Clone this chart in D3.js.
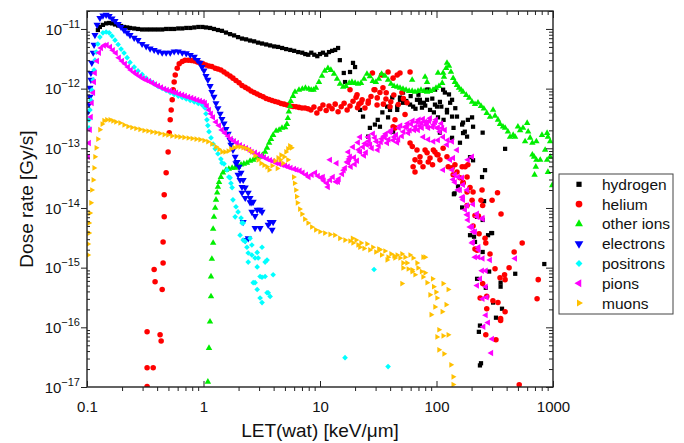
<!DOCTYPE html>
<html>
<head>
<meta charset="utf-8">
<script src="https://cdn.jsdelivr.net/npm/d3@7"></script>
<style>
  body { margin: 0; background: #fff; }
  svg { font-family: "Liberation Sans", Arial, sans-serif; }
</style>
</head>
<body>
<svg id="chart" width="684" height="443"></svg>
<script>
// tick labels
const xTicks = [0.1, 1, 10, 100, 1000];
const xTickLabels = ['0.1', '1', '10', '100', '1000'];
const yTickPowers = [-17, -16, -15, -14, -13, -12, -11];
const seriesNames = ['hydrogen', 'helium', 'other ions', 'electrons', 'positrons', 'pions', 'muons'];

// [LET keV/um, dose rate Gy/s]
const hydrogen = [
  [0.124,9.6e-12],[0.129,1.08e-11],[0.137,1.17e-11],[0.146,1.24e-11],[0.155,1.26e-11],[0.164,1.24e-11],[0.174,1.19e-11],[0.185,1.14e-11],
  [0.196,1.12e-11],[0.208,1.08e-11],[0.221,1.06e-11],[0.234,1.04e-11],[0.254,1.02e-11],[0.274,1.0e-11],[0.297,9.8e-12],[0.322,9.8e-12],
  [0.348,9.8e-12],[0.377,9.8e-12],[0.408,9.8e-12],[0.442,9.8e-12],[0.478,1.0e-11],[0.518,1.0e-11],[0.56,1.0e-11],[0.607,1.02e-11],
  [0.657,1.02e-11],[0.711,1.04e-11],[0.77,1.04e-11],[0.833,1.06e-11],[0.902,1.08e-11],[0.977,1.08e-11],[1.05,1.06e-11],[1.14,1.04e-11],
  [1.23,1.0e-11],[1.33,9.6e-12],[1.44,9.3e-12],[1.56,8.7e-12],[1.69,8.2e-12],[1.83,7.8e-12],[1.98,7.3e-12],[2.14,6.9e-12],[2.32,6.7e-12],
  [2.51,6.4e-12],[2.72,6.2e-12],[2.94,5.9e-12],[3.18,5.7e-12],[3.45,5.5e-12],[3.73,5.3e-12],[4.04,5.1e-12],[4.37,5.0e-12],[4.73,4.8e-12],
  [5.12,4.6e-12],[5.55,4.45e-12],[6.0,4.3e-12],[6.5,4.1e-12],[7.04,4.0e-12],[7.47,3.8e-12],[7.93,3.7e-12],[8.42,4.0e-12],[8.93,3.7e-12],
  [9.48,3.5e-12],[10.0,3.8e-12],[10.6,4.0e-12],[11.3,3.7e-12],[11.95,4.1e-12],[12.7,4.3e-12],[13.5,4.45e-12],[14.3,4.8e-12],
  [14.8,3.0e-12],[16.0,1.83e-12],[18.1,1.9e-12],[19.2,2.7e-12],[20.0,2.3e-12],[16.4,1.29e-12],[22.1,4.4e-13],[23.4,3.4e-13],[26.8,2.2e-13],
  [25.9,1.57e-13],[31.3,3.0e-13],[34.3,4.0e-13],[39.9,4.4e-13],[48.6,7.1e-13],[51.6,5.8e-13],[63,5.0e-13],[72.2,5.8e-13],[88,4.4e-13],
  [101,5.0e-13],[83.2,9.6e-13],[97.2,9.6e-13],[41.7,7.1e-13],[37.7,5.0e-13],[32.7,2.3e-13],[38.4,3.3e-13],[46.0,5.0e-13],[51.6,8.6e-13],
  [68.0,6.5e-13],[114,9.6e-13],[123,4.4e-13],[131,5.8e-13],[150,3.4e-13],[169,2.7e-13],[186,3.0e-13],[169,1.8e-13],[183,1.57e-13],
  [159,1.24e-13],[194,7.1e-14],[78,5.8e-13],[97,5.4e-13],[107,6.0e-13],[118,8.6e-13],[136,6.5e-13],[123,4.0e-13],[136,3.4e-13],
  [166,2.5e-13],[202,3.3e-13],[206,2.3e-13],[249,1.83e-13],[388,9.8e-14],[107,1.83e-13],[136,1.5e-13],[206,6.3e-14],[261,4.3e-14],
  [246,3.3e-14],[143,1.76e-14],[223,7.1e-15],[166,1.02e-14],[249,6.3e-15],[300,3.8e-15],[277,3.5e-15],[194,3.5e-15],[214,2.7e-15],
  [249,1.83e-15],[153,2.3e-14],[141,1.7e-14],[256,1.3e-14],[210,3.3e-15],[295,3.8e-15],[223,6.5e-16],[283,8.6e-16],[355,5.6e-16],
  [355,4.8e-16],[474,7.9e-16],[265,4.6e-16],[306,2.6e-16],[365,2.05e-16],[324,1.45e-16],[236,1.07e-16],[231,8.4e-17],[241,2.5e-17],
  [236,2.3e-17],[842,1.15e-15],[29.6,2.5e-13],[46,4.4e-13],[48.6,6.5e-13],[59.3,5.4e-13],[72,6.5e-13],[83,6.5e-13],[103,3.3e-13],
  [85,9.6e-13],[70,7.9e-13],[42.4,1.9e-13],
  [55,6.2e-13],[60,7.5e-13],[66,4.6e-13],[75,4.8e-13],[80,5.2e-13],[92,6.8e-13],[110,5.0e-13],[128,8.0e-13],[145,4.7e-13],[95,4.0e-13],
  [115,3.0e-13],[175,1.9e-13],[140,2.2e-13]
];

const helium = [
  [0.328,1.02e-17],[0.328,2.1e-17],[0.37,2.1e-17],[0.328,8.4e-17],[0.424,7.5e-17],[0.433,5.9e-17],[0.377,9.3e-16],[0.384,5.8e-16],
  [0.442,4.3e-16],[0.45,1.2e-15],[0.45,2.7e-15],[0.46,7.1e-15],[0.46,1.66e-14],[0.478,3.9e-14],[0.497,8.7e-14],[0.508,1.83e-13],
  [0.518,3.0e-13],[0.528,4.4e-13],[0.539,6.5e-13],[0.549,9.6e-13],[0.56,1.29e-12],[0.572,1.69e-12],[0.595,2.2e-12],[0.619,2.6e-12],
  [0.657,2.85e-12],[0.694,3.0e-12],[0.74,3.0e-12],[0.787,2.96e-12],[0.833,2.9e-12],[0.885,2.8e-12],[0.934,2.7e-12],[0.99,2.6e-12],
  [1.05,2.5e-12],[1.115,2.4e-12],[1.18,2.35e-12],[1.26,2.2e-12],[1.33,2.13e-12],[1.41,2.05e-12],[1.5,1.9e-12],[1.59,1.76e-12],
  [1.69,1.63e-12],[1.79,1.5e-12],[1.9,1.37e-12],[2.02,1.25e-12],[2.14,1.13e-12],[2.28,1.05e-12],[2.42,9.9e-13],[2.56,9.15e-13],
  [2.72,8.6e-13],[2.89,8.15e-13],[3.06,7.7e-13],[3.25,7.3e-13],[3.45,6.85e-13],[3.66,6.6e-13],[3.88,6.35e-13],[4.12,6.1e-13],
  [4.37,5.9e-13],[4.63,5.65e-13],[4.91,5.5e-13],[5.21,5.3e-13],[5.53,5.1e-13],[5.87,5.0e-13],[6.22,4.95e-13],[6.6,4.85e-13],
  [7.0,4.75e-13],[7.43,4.75e-13],[7.88,4.6e-13],[8.36,4.4e-13],[8.87,4.9e-13],[9.4,3.9e-13],[10,4.6e-13],[10.6,5.3e-13],[11.3,4.3e-13],
  [11.95,5.1e-13],[12.7,4.6e-13],[13.5,5.5e-13],[14.3,4.1e-13],[15.2,4.95e-13],[16.1,5.7e-13],[17.1,4.4e-13],[18.1,5.1e-13],
  [19.2,6.15e-13],[20.4,7.2e-13],[21.6,5.5e-13],[23.0,6.5e-13],[24.3,4.75e-13],[25.9,5.7e-13],[27.4,7.4e-13],[29.1,9.6e-13],
  [30.9,5.3e-13],[32.7,8.6e-13],[34.7,1.03e-12],[36.8,6.7e-13],[38.4,1.9e-12],[39.9,4.95e-13],[42.4,1.5e-12],[44,3.0e-13],[44,2.2e-13],
  [46,1.69e-12],[48.6,1.83e-12],[50.5,8.6e-13],[53.7,3.7e-13],[55.8,5.8e-13],[59.3,1.9e-12],[28.2,1.83e-12],[33.8,1.69e-12],
  [29.6,9.6e-13],[20.8,7.9e-13],[18.1,9.6e-13],[42.4,2.3e-13],[59.3,1.23e-13],
  [21,4.8e-13],[22.5,5.8e-13],[26,6.2e-13],[31,7.0e-13],[35,5.5e-13],[37,8.5e-13],[40.5,6.0e-13],[43,7.8e-13],[47,5.4e-13],[52,6.8e-13],
  [62,1.07e-13],[68,9.4e-14],[65.4,6.4e-14],[72.2,7.2e-14],[76.6,4.9e-14],[65.4,4.0e-14],[83,8.4e-14],[88,6.9e-14],[94,9.4e-14],
  [101,7.8e-14],[92.5,5.3e-14],[72,5.9e-14],[63,4.9e-14],[79.8,9.4e-14],[97,8.7e-14],[103,7.8e-14],[107,6.4e-14],[114,1.0e-13],
  [123,7.2e-14],[85,5.9e-14],[126,4.9e-14],[136,4.7e-14],[144,5.3e-14],[150,4.0e-14],[166,4.9e-14],[176,4.9e-14],[139,3.6e-14],
  [159,3.2e-14],[183,3.3e-14],[186,5.3e-14],[169,2.6e-14],[194,2.2e-14],[206,1.85e-14],[246,2.0e-14],[334,1.8e-14],[183,1.1e-14],
  [202,1.35e-14],[249,1.1e-14],[300,1.35e-14],[358,7.9e-15],[229,7.3e-15],[214,7.5e-15],[206,5.0e-15],[232,3.7e-15],[261,3.1e-15],
  [265,2.6e-15],[544,2.6e-15],[214,2.05e-15],[223,1.95e-15],[288,1.7e-15],[464,1.83e-15],[318,9.6e-16],[420,1.0e-15],[384,7.6e-16],
  [351,6.8e-16],[388,6.3e-16],[747,6.3e-16],[249,5.4e-16],[237,3.1e-16],[270,3.3e-16],[305,2.8e-16],[337,2.6e-16],[730,3.0e-16],
  [270,2.05e-16],[388,1.83e-16],[355,1.4e-16],[355,1.3e-16],[265,7.5e-17],[324,6.2e-17],[513,1.09e-17],[169,2.7e-14],[183,1.85e-14],
  [241,1.35e-14]
];

const otherIons = [
  [1.09,1.22e-17],[1.115,4.5e-17],[1.137,1.24e-16],[1.16,3.3e-16],[1.16,7.1e-16],[1.18,1.4e-15],[1.21,2.6e-15],[1.21,4.45e-15],
  [1.23,7.1e-15],[1.26,1.0e-14],[1.28,1.37e-14],[1.31,1.8e-14],[1.33,2.25e-14],[1.36,2.7e-14],[1.41,3.3e-14],[1.47,3.9e-14],
  [1.56,4.35e-14],[1.65,4.5e-14],[1.76,4.7e-14],[1.86,4.7e-14],[1.98,4.9e-14],[2.1,5.3e-14],[2.22,5.5e-14],[2.36,5.7e-14],
  [2.51,6.15e-14],[2.67,6.4e-14],[2.83,6.9e-14],[3.0,7.2e-14],[3.2,7.7e-14],[3.38,8.7e-14],[3.51,1.02e-13],[3.66,1.23e-13],
  [3.8,1.43e-13],[3.96,1.67e-13],[4.2,1.95e-13],[4.46,2.03e-13],[4.72,2.2e-13],[5.02,2.25e-13],[5.2,2.55e-13],[5.3,3.2e-13],
  [5.4,4.1e-13],[5.53,5.1e-13],[5.6,6.2e-13],[5.87,7.5e-13],[6.1,8.8e-13],[6.6,9.5e-13],[7.05,9.9e-13],[7.5,1.03e-12],[8.0,9.9e-13],
  [8.4,9.5e-13],[8.8,9.5e-13],[9.24,1.03e-12],[9.8,1.29e-12],[10.4,1.63e-12],[11.0,1.98e-12],[11.7,2.2e-12],[12.4,2.05e-12],
  [13.2,1.76e-12],[14.0,1.45e-12],[14.85,1.2e-12],[15.8,1.07e-12],[16.7,1.1e-12],[17.8,1.24e-12],[18.8,1.29e-12],[20.0,1.24e-12],
  [21.2,1.2e-12],[22.5,1.24e-12],[23.9,1.45e-12],[25.3,1.76e-12],[26.8,1.6e-12],[28.4,1.34e-12],[30.2,1.29e-12],[32.0,1.45e-12],
  [33.8,1.76e-12],[36.1,1.63e-12],[38.4,1.4e-12],[40.7,1.2e-12],[43.2,1.1e-12],[46,1.07e-12],[48.6,1.03e-12],[51.6,9.9e-13],
  [54.8,9.5e-13],[58.2,9.1e-13],[61.8,9.1e-13],[65.4,8.8e-13],[69.4,9.1e-13],[73.6,9.5e-13],[78.2,9.1e-13],[83,8.8e-13],[88,9.1e-13],
  [93.3,9.5e-13],[99,1.03e-12],[105,1.1e-12],[112,1.24e-12],[116,1.57e-12],[121,2.2e-12],[123,2.7e-12],[128,2.4e-12],[133,1.9e-12],
  [139,1.5e-12],[144,1.29e-12],[150,1.15e-12],[156,1.03e-12],[163,9.5e-13],[169,8.8e-13],[180,7.8e-13],[191,7.0e-13],[202,6.0e-13],
  [214,5.5e-13],[227,5.8e-13],[241,5.1e-13],[255,4.6e-13],[270,3.9e-13],[288,3.35e-13],[306,4.4e-13],[318,3.5e-13],[337,3.0e-13],
  [351,2.55e-13],[372,2.3e-13],[388,2.2e-13],[410,1.9e-13],[428,1.55e-13],[455,1.67e-13],[473,1.55e-13],[500,2.3e-13],[522,2.0e-13],
  [553,2.2e-13],[576,1.3e-13],[600,2.65e-13],[612,1.9e-13],[636,1.5e-13],[665,1.23e-13],[665,7.8e-14],[695,3.6e-14],[720,1.3e-13],
  [720,6.4e-14],[777,6.4e-14],[804,1.67e-13],[856,9.4e-14],[890,1.8e-13],[905,1.55e-13],[905,4.0e-14],[945,7.2e-14],[945,1.3e-13],
  [985,2.4e-14],[688,7.2e-14],[712,4.9e-14],[890,6.4e-14],
  [79.8,1.57e-12],[83,1.29e-12],[103,1.83e-12],[114,1.83e-12],[61.8,1.4e-12]
];

const electrons = [
  [0.102,4.1e-13],[0.104,5.5e-13],[0.106,7.3e-13],[0.106,1.03e-12],[0.108,1.4e-12],[0.108,1.83e-12],[0.11,2.7e-12],[0.113,4.0e-12],
  [0.115,5.4e-12],[0.117,7.9e-12],[0.122,1.17e-11],[0.129,1.53e-11],[0.137,1.68e-11],[0.146,1.72e-11],[0.155,1.65e-11],[0.164,1.5e-11],
  [0.174,1.36e-11],[0.185,1.21e-11],[0.196,1.08e-11],[0.208,9.6e-12],[0.221,8.7e-12],[0.234,7.9e-12],[0.254,7.1e-12],[0.274,6.5e-12],
  [0.297,5.6e-12],[0.322,5.1e-12],[0.348,4.7e-12],[0.377,4.45e-12],[0.408,4.2e-12],[0.442,4.0e-12],[0.478,4.0e-12],[0.518,4.0e-12],
  [0.56,4.2e-12],[0.607,4.2e-12],[0.657,4.0e-12],[0.711,3.9e-12],[0.77,3.67e-12],[0.833,3.4e-12],[0.885,3.0e-12],[0.934,2.7e-12],
  [0.97,2.3e-12],[1.01,2.0e-12],[1.05,1.63e-12],[1.09,1.4e-12],[1.14,1.1e-12],[1.18,8.8e-13],[1.23,7.3e-13],[1.28,5.7e-13],
  [1.33,4.7e-13],[1.39,3.8e-13],[1.44,3.1e-13],[1.5,2.6e-13],[1.56,2.1e-13],[1.63,1.75e-13],[1.69,1.37e-13],[1.72,1.14e-13],
  [1.79,9.4e-14],[1.87,7.2e-14],[1.94,5.9e-14],[2.02,4.9e-14],[2.1,3.9e-14],[2.19,2.95e-14],[2.14,2.25e-14],[2.14,1.8e-14],
  [2.28,2.2e-14],[2.28,1.47e-14],[2.51,1.47e-14],[2.67,1.27e-14],[2.51,1.24e-14],[2.6,8.6e-15],[2.89,9.3e-15],[3.06,9.3e-15],
  [2.77,7.3e-15],[3.06,4.6e-15],[2.77,4.6e-15],[3.73,5.8e-15],[3.96,5.8e-15],[3.59,5.2e-15],[3.88,4.3e-15],[2.42,3.1e-15],
  [2.28,2.9e-15],[2.19,5.8e-15],[3.18,8.6e-15],[1.98,3.6e-14],[1.9,5.6e-14],[2.06,2.95e-14],[2.42,1.8e-14],[2.6,1.24e-14]
];

const positrons = [
  [0.104,2.2e-13],[0.104,3.0e-13],[0.106,4.4e-13],[0.108,6.4e-13],[0.11,9.5e-13],[0.113,1.4e-12],[0.115,2.05e-12],[0.117,3.0e-12],
  [0.12,4.1e-12],[0.124,5.6e-12],[0.129,7.3e-12],[0.137,8.6e-12],[0.146,8.9e-12],[0.155,8.6e-12],[0.164,7.6e-12],[0.174,6.5e-12],
  [0.185,5.5e-12],[0.196,4.6e-12],[0.208,3.96e-12],[0.221,3.3e-12],[0.234,2.75e-12],[0.254,2.3e-12],[0.274,1.98e-12],[0.297,1.73e-12],
  [0.322,1.5e-12],[0.348,1.34e-12],[0.377,1.2e-12],[0.408,1.09e-12],[0.442,1.01e-12],[0.478,9.3e-13],[0.518,8.6e-13],[0.56,8.0e-13],
  [0.607,7.5e-13],[0.657,7.1e-13],[0.711,6.7e-13],[0.77,6.35e-13],[0.833,6.0e-13],[0.902,5.65e-13],[0.977,5.3e-13],[1.03,4.75e-13],
  [1.05,3.8e-13],[1.07,3.0e-13],[1.09,2.4e-13],[1.115,1.9e-13],[1.16,1.5e-13],[1.21,1.18e-13],[1.26,9.8e-14],[1.33,8.1e-14],
  [1.41,6.6e-14],[1.5,5.5e-14],[1.59,4.35e-14],[1.65,3.3e-14],[1.72,2.6e-14],[1.76,2.2e-14],[1.79,1.37e-14],[1.9,1.05e-14],
  [1.98,8.6e-15],[2.1,6.8e-15],[2.19,5.6e-15],[2.06,3.5e-15],[2.19,2.9e-15],[2.28,2.75e-15],[2.6,2.4e-15],[3.18,2.2e-15],
  [2.42,1.76e-15],[2.6,1.63e-15],[2.42,1.24e-15],[2.77,1.45e-15],[2.95,1.45e-15],[2.89,1.03e-15],[3.51,1.34e-15],[3.06,7.1e-16],
  [3.38,7.1e-16],[3.96,7.6e-16],[2.77,5.6e-16],[2.89,4.3e-16],[3.59,3.8e-16],[3.73,3.3e-16],[3.06,3.1e-16],[3.18,2.6e-16],
  [1.87,7.1e-15],[2.14,5.6e-15],[2.36,2.2e-15],[2.51,3.1e-15],[2.89,1.8e-15],[3.38,1.24e-15],[3.18,6.9e-16],[2.67,5.6e-16],
  [3.51,3.8e-16],[1.44,5.7e-14],[1.69,3.2e-14],[29.1,9.3e-16],[16.4,3.1e-17],[38.4,2.2e-17]
];

const pions = [
  [0.102,7.2e-14],[0.104,1.23e-13],[0.106,2.05e-13],[0.108,3.35e-13],[0.11,5.75e-13],[0.113,8.5e-13],[0.115,1.29e-12],[0.117,1.83e-12],
  [0.122,2.9e-12],[0.127,4.0e-12],[0.132,4.8e-12],[0.14,5.3e-12],[0.148,5.4e-12],[0.158,5.0e-12],[0.167,4.4e-12],[0.177,3.96e-12],
  [0.188,3.3e-12],[0.2,2.9e-12],[0.212,2.6e-12],[0.225,2.3e-12],[0.238,2.05e-12],[0.254,1.87e-12],[0.268,1.73e-12],[0.285,1.6e-12],
  [0.302,1.48e-12],[0.322,1.4e-12],[0.341,1.33e-12],[0.362,1.25e-12],[0.384,1.17e-12],[0.408,1.11e-12],[0.433,1.05e-12],[0.46,9.9e-13],
  [0.486,9.5e-13],[0.518,9.2e-13],[0.549,8.8e-13],[0.583,8.5e-13],[0.619,8.15e-13],[0.657,7.8e-13],[0.694,7.5e-13],[0.74,7.25e-13],
  [0.787,7.0e-13],[0.833,6.7e-13],[0.885,6.45e-13],[0.934,6.2e-13],[0.99,6.0e-13],[1.03,5.75e-13],[1.07,5.1e-13],[1.115,4.4e-13],
  [1.16,3.8e-13],[1.21,3.3e-13],[1.28,2.77e-13],[1.36,2.4e-13],[1.44,2.03e-13],[1.53,1.8e-13],[1.63,1.6e-13],[1.72,1.43e-13],
  [1.83,1.32e-13],[1.94,1.23e-13],[2.06,1.13e-13],[2.19,1.05e-13],[2.32,1.0e-13],[2.47,9.4e-14],[2.6,8.7e-14],[2.77,8.4e-14],
  [2.95,7.9e-14],[3.12,7.45e-14],[3.31,7.05e-14],[3.51,6.65e-14],[3.73,6.3e-14],[3.96,6.05e-14],[4.2,5.7e-14],[4.46,5.5e-14],
  [4.72,5.3e-14],[5.02,5.1e-14],[5.3,4.9e-14],[5.6,4.7e-14],[6.0,4.5e-14],[6.3,4.35e-14],[6.7,4.2e-14],[7.1,3.9e-14],[7.6,3.6e-14],
  [8.0,3.3e-14],[8.5,3.6e-14],[9.1,3.9e-14],[9.6,3.45e-14],[10.2,3.2e-14],[10.8,2.85e-14],[11.5,2.6e-14],[12.2,2.95e-14],[12.9,3.3e-14],
  [13.7,2.75e-14],[14.5,3.05e-14],[15.5,3.7e-14],[16.4,4.7e-14],[17.5,5.7e-14],[18.4,4.9e-14],[19.6,7.0e-14],[20.8,6.2e-14],
  [22.1,8.7e-14],[23.4,1.05e-13],[24.8,8.5e-14],[26.3,1.33e-13],[27.9,1.0e-13],[29.6,1.5e-13],[31.3,9.4e-14],[33.3,1.27e-13],
  [35.3,1.6e-13],[37.7,1.23e-13],[39.9,1.88e-13],[42.4,1.37e-13],[45,1.67e-13],[47.6,2.2e-13],[50.5,1.6e-13],[53.7,2.27e-13],
  [57.2,1.8e-13],[60.5,2.56e-13],[64.3,2.03e-13],[68,2.77e-13],[72.2,2.37e-13],[76.6,3.1e-13],[81.4,2.45e-13],[86.5,2.87e-13],
  [92,2.27e-13],[97.2,2.77e-13],[103,2.2e-13],
  [18.1,7.2e-14],[19.2,1.05e-13],[21.2,1.25e-13],[25.3,1.15e-13],[36.1,1.52e-13],[46,1.25e-13],[55.8,2.27e-13],[69.4,2.03e-13],
  [79.8,2.77e-13],[85,2.2e-13],[17.1,5.9e-14],[13.9,5.6e-14],[12.2,6.4e-14],[10.6,3.3e-14],[11.7,2.25e-14],[14.3,2.75e-14],
  [25.9,1.55e-13],[22.1,1.55e-13],[17.5,8.7e-14],
  [16.0,4.3e-14],[17.8,6.6e-14],[19.9,5.4e-14],[21.5,9.5e-14],[23.9,7.6e-14],[24.3,1.2e-13],[27.0,1.15e-13],[28.5,1.75e-13],
  [30.5,1.3e-13],[32.0,1.1e-13],[34.0,1.45e-13],[36.8,1.75e-13],[38.8,1.4e-13],[41.0,2.0e-13],[43.5,1.55e-13],[47.0,1.4e-13],
  [49.0,2.4e-13],[52.0,1.9e-13],[56.5,2.6e-13],[59.0,2.0e-13],[62.5,2.9e-13],[66.0,2.3e-13],[70.5,3.0e-13],[75.0,2.2e-13],
  [88.0,3.2e-13],[95.0,2.5e-13],[99.0,3.0e-13],[110,2.6e-13],[112,2.2e-13],
  [74.4,2.65e-13],[83,2.65e-13],[101,2.2e-13],[107,1.9e-13],[118,2.03e-13],[77,1.55e-13],[85,1.4e-13],[94,1.3e-13],[103,1.37e-13],
  [114,1.55e-13],[125,1.37e-13],[136,1.3e-13],[123,1.15e-13],[114,4.35e-14],[131,6.4e-14],[139,6.9e-14],[150,9.4e-14],[136,4.35e-14],
  [144,3.6e-14],[153,3.3e-14],[139,3.0e-14],[166,3.2e-14],[169,2.45e-14],[159,2.0e-14],[183,2.0e-14],[186,6.4e-14],[202,7.2e-14],
  [169,1.37e-14],[166,1.52e-14],[183,1.1e-14],[176,9.3e-15],[183,7.7e-15],[223,7.1e-15],[249,6.8e-15],[194,4.8e-15],[206,4.0e-15],
  [206,2.7e-15],[229,2.2e-15],[214,1.5e-15],[473,1.42e-15],[144,2.7e-14],[153,2.0e-14],[169,1.5e-14],[206,1.15e-14],[186,7.7e-15],
  [223,8.0e-15],[186,6.3e-15],[249,6.5e-15],[202,4.8e-15],[214,4.0e-15],[202,2.6e-15],[229,2.0e-15],[229,1.5e-15],[249,1.42e-15],
  [288,1.34e-15],[246,8.9e-16],[265,8.9e-16],[237,6.5e-16],[223,5.0e-16],[265,4.8e-16],[270,3.2e-16],[249,3.0e-16],[265,1.6e-16],
  [277,1.2e-16],[253,1.02e-16],[300,6.4e-17],[295,3.7e-17]
];

const muons = [
  [0.102,1.63e-15],[0.102,2.5e-15],[0.104,3.8e-15],[0.104,5.6e-15],[0.106,8.2e-15],[0.108,1.22e-14],[0.11,2.0e-14],[0.113,2.95e-14],
  [0.115,4.7e-14],[0.117,7.2e-14],[0.12,1.02e-13],[0.124,1.43e-13],[0.129,2.05e-13],[0.135,2.55e-13],[0.14,2.9e-13],[0.148,3.0e-13],
  [0.158,3.0e-13],[0.167,2.88e-13],[0.177,2.77e-13],[0.192,2.66e-13],[0.208,2.47e-13],[0.225,2.32e-13],[0.243,2.23e-13],[0.263,2.15e-13],
  [0.285,2.07e-13],[0.309,1.99e-13],[0.334,1.95e-13],[0.361,1.88e-13],[0.391,1.84e-13],[0.423,1.77e-13],[0.46,1.7e-13],[0.495,1.67e-13],
  [0.536,1.61e-13],[0.583,1.58e-13],[0.628,1.55e-13],[0.68,1.52e-13],[0.74,1.49e-13],[0.8,1.46e-13],[0.865,1.43e-13],[0.934,1.4e-13],
  [1.01,1.35e-13],[1.09,1.29e-13],[1.18,1.18e-13],[1.28,1.06e-13],[1.36,9.6e-14],[1.44,8.7e-14],[1.53,8.7e-14],[1.63,9.0e-14],
  [1.72,9.8e-14],[1.83,1.03e-13],[1.94,1.06e-13],[2.06,1.06e-13],[2.19,1.03e-13],[2.32,1.0e-13],[2.47,9.4e-14],[2.6,8.7e-14],
  [2.77,7.5e-14],[2.95,6.4e-14],[3.12,5.6e-14],[3.31,5.2e-14],[3.51,4.9e-14],[3.66,4.35e-14],[3.88,5.1e-14],[4.12,6.15e-14],
  [4.37,6.9e-14],[4.63,7.7e-14],[4.91,7.2e-14],[5.1,8.7e-14],[5.3,9.8e-14],[5.5,1.1e-13],[5.7,1.02e-13],[4.8,5.6e-14],[5.3,6.4e-14],
  [4.3,4.6e-14],[4.55,6.4e-14],[5.94,3.3e-14],[6.05,2.6e-14],[6.2,2.0e-14],[6.3,1.55e-14],[6.4,1.22e-14],[6.7,9.6e-15],[7.0,7.9e-15],
  [7.4,6.5e-15],[7.9,5.6e-15],[8.5,4.8e-15],[9.2,4.3e-15],[10,4.0e-15],[11.0,3.8e-15],[12.2,3.6e-15],[13.4,3.5e-15],[14.8,3.1e-15],
  [16.4,2.9e-15],[18.1,2.8e-15],[19.2,2.6e-15],[20.4,2.9e-15],[21.2,2.4e-15],[22.5,2.6e-15],[23.9,2.1e-15],[25.3,2.5e-15],
  [26.8,1.98e-15],[28.4,2.2e-15],[30.2,1.83e-15],[32,2.05e-15],[33.8,1.63e-15],[36.1,1.9e-15],[38.4,1.5e-15],[40.7,1.7e-15],
  [43.2,1.57e-15],[46,1.63e-15],[48.6,1.45e-15],[51.6,1.2e-15],[50.5,1.7e-15],[53.7,1.5e-15],[55.8,1.2e-15],[59.3,1.63e-15],
  [63,1.45e-15],[68,1.2e-15],[51.6,9.9e-16],[57.2,9.5e-16],[61.8,8.6e-16],[69.4,9.9e-16],[74.4,8.6e-16],[79.8,8.2e-16],[65.4,7.6e-16],
  [76.6,7.0e-16],[92.5,6.5e-16],[83,5.6e-16],[94.5,4.8e-16],[88,3.5e-16],[99,3.9e-16],[114,5.4e-16],[126,4.3e-16],[101,3.1e-16],
  [97,2.2e-16],[112,1.83e-16],[90,1.63e-16],[121,2.4e-16],[105,9.1e-17],[126,7.5e-17],[101,6.9e-17],[114,7.2e-17],[105,4.2e-17],
  [116,3.6e-17],[133,2.35e-17],[139,1.48e-17],[139,1.1e-17],[50.5,5.4e-16],[79.8,1.5e-15],[19,3.1e-15],[22,2.2e-15],[32.7,2.0e-15],
  [37.7,1.35e-15],[44,1.45e-15],[76.6,1.5e-15],[61.8,9.2e-16]
];

const allSeries = [hydrogen, helium, otherIons, electrons, positrons, pions, muons];

// marker styles
const colors = ['#000000', '#ff0000', '#00ee00', '#0000ff', '#00ffff', '#ff00ff', '#ffc000'];
const shapes = [d3.symbolSquare, d3.symbolCircle, d3.symbolTriangle, d3.symbolTriangle, d3.symbolSquare, d3.symbolTriangle, d3.symbolTriangle];
const turns = [0, 0, 0, 180, 45, -90, 90];
const areas = [18, 24, 18, 22, 16, 18, 14];

const svg = d3.select('#chart');
const plotLeft = 87, plotRight = 553, plotTop = 11, plotBottom = 387;

const x = d3.scaleLog().domain([0.1, 1000]).range([plotLeft, plotRight]);
const y = d3.scaleLog().domain([1e-17, 2e-11]).range([plotBottom, plotTop]);

svg.append('defs').append('clipPath').attr('id', 'plotClip')
  .append('rect').attr('x', plotLeft).attr('y', plotTop)
  .attr('width', plotRight - plotLeft).attr('height', plotBottom - plotTop);

// markers
const plot = svg.append('g').attr('clip-path', 'url(#plotClip)');
allSeries.forEach((data, i) => {
  const sym = d3.symbol().type(shapes[i]).size(areas[i]);
  plot.append('g')
    .selectAll('path')
    .data(data)
    .join('path')
    .attr('d', sym)
    .attr('transform', d => `translate(${x(d[0])},${y(d[1])}) rotate(${turns[i]})`)
    .attr('fill', colors[i]);
});

// minor tick values (2..9 in each decade)
const xMinor = [];
for (let p = -1; p < 3; p++) for (let m = 2; m < 10; m++) xMinor.push(m * Math.pow(10, p));
const yMinor = [];
for (let p = -17; p < -10; p++) for (let m = 2; m < 10; m++) if (m * Math.pow(10, p) <= 2e-11) yMinor.push(m * Math.pow(10, p));
const yMajor = yTickPowers.map(p => Math.pow(10, p));

const axisColor = '#222';
function styleAxis(g) {
  g.select('.domain').remove();
  g.selectAll('line').attr('stroke', axisColor).attr('stroke-width', 1);
}

// bottom: majors inside, minors outside
svg.append('g').attr('transform', `translate(0,${plotBottom})`)
  .call(d3.axisBottom(x).tickValues(xMinor).tickSize(4).tickFormat(''))
  .call(styleAxis);
svg.append('g').attr('transform', `translate(0,${plotBottom})`)
  .call(d3.axisBottom(x).tickValues(xTicks).tickSize(-6).tickPadding(14).tickFormat((d, i) => xTickLabels[i]))
  .call(styleAxis)
  .call(g => g.selectAll('text').attr('font-size', 15).attr('fill', '#111').attr('font-family', '"Liberation Sans", Arial, sans-serif'));
// top
svg.append('g').attr('transform', `translate(0,${plotTop})`)
  .call(d3.axisTop(x).tickValues(xMinor).tickSize(-4).tickFormat(''))
  .call(styleAxis);
svg.append('g').attr('transform', `translate(0,${plotTop})`)
  .call(d3.axisTop(x).tickValues(xTicks).tickSize(-7).tickFormat(''))
  .call(styleAxis);
// left: majors outside, minors inside
svg.append('g').attr('transform', `translate(${plotLeft},0)`)
  .call(d3.axisLeft(y).tickValues(yMinor).tickSize(-3).tickFormat(''))
  .call(styleAxis);
svg.append('g').attr('transform', `translate(${plotLeft},0)`)
  .call(d3.axisLeft(y).tickValues(yMajor).tickSize(6).tickPadding(1).tickFormat(''))
  .call(styleAxis)
  .call(g => g.selectAll('.tick text').each(function (d, i) {
    const t = d3.select(this)
      .attr('font-size', 15).attr('fill', '#111').attr('dy', '0.35em')
      .attr('font-family', '"Liberation Sans", Arial, sans-serif');
    t.append('tspan').text('10');
    t.append('tspan').attr('dy', -7).attr('font-size', 11).text('\u2212' + Math.abs(yTickPowers[i]));
  }));
// right
svg.append('g').attr('transform', `translate(${plotRight},0)`)
  .call(d3.axisRight(y).tickValues(yMinor).tickSize(-4).tickFormat(''))
  .call(styleAxis);
svg.append('g').attr('transform', `translate(${plotRight},0)`)
  .call(d3.axisRight(y).tickValues(yMajor).tickSize(-7).tickFormat(''))
  .call(styleAxis);

// frame
svg.append('rect')
  .attr('x', plotLeft).attr('y', plotTop)
  .attr('width', plotRight - plotLeft).attr('height', plotBottom - plotTop)
  .attr('fill', 'none').attr('stroke', axisColor).attr('stroke-width', 1.4);

// axis titles
svg.append('text')
  .attr('x', 320).attr('y', 437).attr('text-anchor', 'middle')
  .attr('font-size', 19).attr('fill', '#111')
  .text('LET(wat) [keV/\u03bcm]');
svg.append('text')
  .attr('transform', 'translate(33,199) rotate(-90)').attr('text-anchor', 'middle')
  .attr('font-size', 19).attr('fill', '#111')
  .text('Dose rate [Gy/s]');

// legend
const legend = svg.append('g');
legend.append('rect')
  .attr('x', 559).attr('y', 174).attr('width', 114).attr('height', 140)
  .attr('fill', '#fff').attr('stroke', '#444').attr('stroke-width', 1);
seriesNames.forEach((name, i) => {
  const ly = 184.3 + i * 19.8;
  legend.append('path')
    .attr('d', d3.symbol().type(shapes[i]).size(areas[i] * 1.5)())
    .attr('transform', `translate(579,${ly}) rotate(${turns[i]})`)
    .attr('fill', colors[i]);
  legend.append('text')
    .attr('x', 602).attr('y', ly).attr('dy', '0.35em')
    .attr('font-size', 15.5).attr('fill', '#111')
    .text(name);
});
</script>
</body>
</html>
